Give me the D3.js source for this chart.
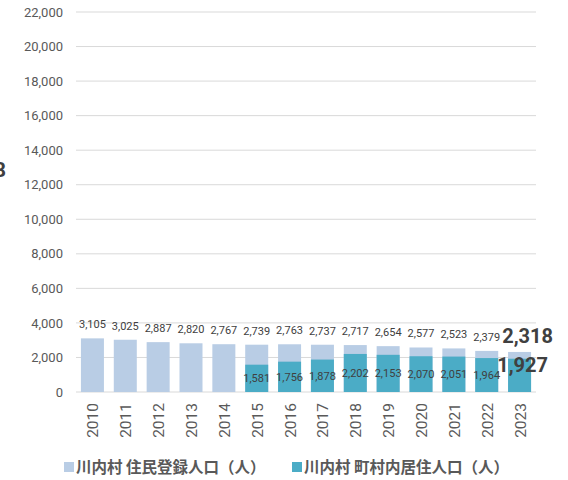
<!DOCTYPE html>
<html><head><meta charset="utf-8">
<script src="https://cdn.jsdelivr.net/npm/d3@7"></script>
<style>body{margin:0;background:#fff}svg{display:block}</style>
</head><body>
<script>
const years = ["2010","2011","2012","2013","2014","2015","2016","2017","2018","2019","2020","2021","2022","2023"];
const registered = [3105,3025,2887,2820,2767,2739,2763,2737,2717,2654,2577,2523,2379,2318];
const resident = [null,null,null,null,null,1581,1756,1878,2202,2153,2070,2051,1964,1927];
const yTicks = [0,2000,4000,6000,8000,10000,12000,14000,16000,18000,20000,22000];
const seriesNames = ["川内村 住民登録人口（人）","川内村 町村内居住人口（人）"];
const colors = ["#b9cde5","#4bacc6"];

const W=568,H=480;
const svg=d3.select("body").append("svg").attr("width",W).attr("height",H);
const font="'Noto Sans CJK JP', Roboto, sans-serif";
const x=d3.scaleBand().domain(years).range([76,536]).paddingInner(0.3).paddingOuter(0.15);
const y=d3.scaleLinear().domain([0,22000]).range([392,12]);
const fmt=d3.format(",");

svg.append("g").selectAll("line").data(yTicks).join("line")
 .attr("x1",76).attr("x2",536).attr("y1",d=>y(d)).attr("y2",d=>y(d))
 .attr("stroke","#d9d9d9").attr("stroke-width",1);

const yAxis=d3.axisLeft(y).tickValues(yTicks).tickFormat(fmt).tickSize(0).tickPadding(0);
const ya=svg.append("g").attr("transform","translate(63,0)").call(yAxis);
ya.select(".domain").remove();
ya.selectAll("text").attr("font-family","Roboto, 'Liberation Sans', sans-serif").attr("font-size",13).attr("fill","#595959");

svg.append("g").selectAll("rect").data(years).join("rect")
 .attr("x",d=>x(d)).attr("width",x.bandwidth())
 .attr("y",(d,i)=>y(registered[i])).attr("height",(d,i)=>y(0)-y(registered[i]))
 .attr("fill",colors[0]);
const resIdx=years.map((d,i)=>i).filter(i=>resident[i]!=null);
svg.append("g").selectAll("rect").data(resIdx).join("rect")
 .attr("x",i=>x(years[i])).attr("width",x.bandwidth())
 .attr("y",i=>y(resident[i])).attr("height",i=>y(0)-y(resident[i]))
 .attr("fill",colors[1]);

const last=years.length-1;
svg.append("g").selectAll("text").data(years.map((d,i)=>i).filter(i=>i!==last)).join("text")
 .attr("x",i=>x(years[i])+x.bandwidth()/2).attr("y",i=>y(registered[i])-10)
 .attr("text-anchor","middle").attr("font-family","Roboto, sans-serif").attr("font-size",11).attr("fill","#404040")
 .text(i=>fmt(registered[i]));
svg.append("g").selectAll("text").data(resIdx.filter(i=>i!==last)).join("text")
 .attr("x",i=>x(years[i])+x.bandwidth()/2).attr("y",i=>(y(resident[i])+y(0))/2+4)
 .attr("text-anchor","middle").attr("font-family","Roboto, sans-serif").attr("font-size",11).attr("fill","#404040")
 .text(i=>fmt(resident[i]));
const cx=x(years[last])+x.bandwidth()/2;
const bigFont="'Liberation Sans Narrow', Roboto, sans-serif";
svg.append("text").attr("x",cx+8).attr("y",y(registered[last])-9).attr("text-anchor","middle")
 .attr("font-family",bigFont).attr("font-weight","bold").attr("font-size",20).attr("fill","#404040").text(fmt(registered[last]));
svg.append("text").attr("x",cx+3).attr("y",y(resident[last])+13).attr("text-anchor","middle")
 .attr("font-family",bigFont).attr("font-weight","bold").attr("font-size",20).attr("fill","#404040").text(fmt(resident[last]));

svg.append("g").selectAll("text").data(years).join("text")
 .attr("transform",d=>`translate(${x(d)+x.bandwidth()/2+6},403) rotate(-90)`)
 .attr("text-anchor","end").attr("font-family","Roboto, sans-serif").attr("font-size",15.5).attr("fill","#595959")
 .text(d=>d);

svg.append("text").attr("x",-6).attr("y",177).attr("font-family",bigFont).attr("font-weight","bold").attr("font-size",21).attr("fill","#404040").text("8");

const lg=svg.append("g");
const lx=[64,292];
seriesNames.forEach((n,i)=>{
  lg.append("rect").attr("x",lx[i]).attr("y",462).attr("width",10).attr("height",10).attr("fill",colors[i]);
  lg.append("text").attr("x",lx[i]+12).attr("y",473).attr("font-family",font).attr("font-weight","bold").attr("font-size",15.5).attr("fill","#595959").text(n);
});
</script>
</body></html>
